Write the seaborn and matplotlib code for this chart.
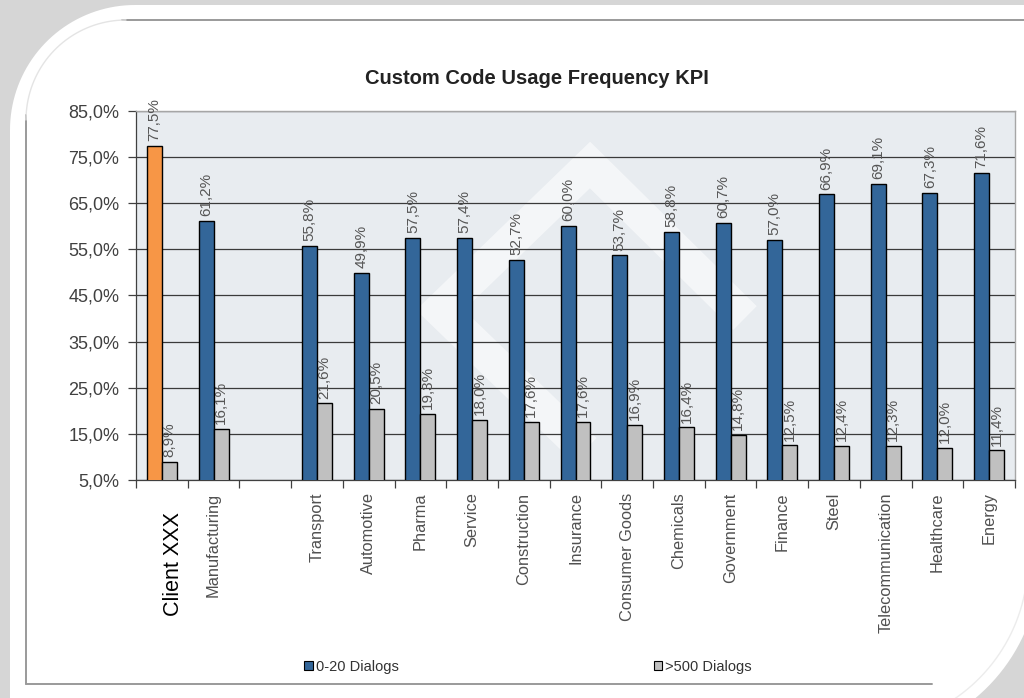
import numpy as np
import pandas as pd
import matplotlib
matplotlib.use("Agg")
import matplotlib.pyplot as plt
import seaborn as sns
from matplotlib.patches import Patch, PathPatch
from matplotlib.path import Path
from matplotlib.lines import Line2D
import matplotlib.transforms as mtransforms

# ---------------- data ----------------
categories = ["Client XXX", "Manufacturing", " ", "Transport", "Automotive", "Pharma",
              "Service", "Construction", "Insurance", "Consumer Goods", "Chemicals",
              "Government", "Finance", "Steel", "Telecommunication", "Healthcare", "Energy"]
data_categories = ["Client XXX", "Manufacturing", "Transport", "Automotive", "Pharma",
                   "Service", "Construction", "Insurance", "Consumer Goods", "Chemicals",
                   "Government", "Finance", "Steel", "Telecommunication", "Healthcare", "Energy"]
low_dialogs = [77.5, 61.2, 55.8, 49.9, 57.5, 57.4, 52.7, 60.0, 53.7, 58.8,
               60.7, 57.0, 66.9, 69.1, 67.3, 71.6]
high_dialogs = [8.9, 16.1, 21.6, 20.5, 19.3, 18.0, 17.6, 17.6, 16.9, 16.4,
                14.8, 12.5, 12.4, 12.3, 12.0, 11.4]
series_names = ["0-20 Dialogs", ">500 Dialogs"]
y_ticks = [5, 15, 25, 35, 45, 55, 65, 75, 85]
title = "Custom Code Usage Frequency KPI"

df = pd.DataFrame({
    "category": data_categories * 2,
    "series": [series_names[0]] * len(data_categories) + [series_names[1]] * len(data_categories),
    "value": low_dialogs + high_dialogs,
})

# ---------------- style ----------------
sns.set_theme(style="white")
plt.rcParams["font.family"] = ["Liberation Sans", "DejaVu Sans"]

BLUE = "#336699"
GRAY = "#C0C0C0"
ORANGE = "#F79646"

W, H = 1024, 698
fig = plt.figure(figsize=(W / 100, H / 100), dpi=100)
fig.patch.set_facecolor("#D6D6D6")
px = fig.dpi_scale_trans  # 1 unit = 1 inch = 100 px


def P(x, y):
    """pixel coords (top-left origin) -> inches (bottom-left origin)"""
    return (x / 100.0, (H - y) / 100.0)


def arc(cx, cy, r, a0, a1, n=40):
    t = np.radians(np.linspace(a0, a1, n))
    return [P(cx + r * np.cos(t_), cy - r * np.sin(t_)) for t_ in t]


# white panel: rounded top-left and bottom-right corners
x0, y0, x1, y1 = 10, 5, 1040, 740
r_tl, r_br = 125, 180
verts = []
verts += arc(x0 + r_tl, y0 + r_tl, r_tl, 180, 90)          # top-left corner
verts += [P(x1, y0)]
verts += [P(x1, y1 - r_br)]
verts += arc(x1 - r_br, y1 - r_br, r_br, 0, -90)           # bottom-right corner
verts += [P(x0, y1)]
verts += [verts[0]]
codes = [Path.MOVETO] + [Path.LINETO] * (len(verts) - 2) + [Path.CLOSEPOLY]
fig.add_artist(PathPatch(Path(verts, codes), transform=px, facecolor="white",
                         edgecolor="none", zorder=0))

# chart border lines (sharp bottom-left, faded top-left / bottom-right)
border = dict(transform=px, color="#9A9A9A", linewidth=1.4, zorder=0.5)
fig.add_artist(Line2D(*zip(P(26, 115), P(26, 684)), **border))
fig.add_artist(Line2D(*zip(P(26, 684), P(932, 684)), **border))
fig.add_artist(Line2D(*zip(P(122, 20), P(W, 20)), **border))
faint_tl = arc(26 + 100, 20 + 100, 100, 180, 90)
fig.add_artist(Line2D(*zip(*faint_tl), transform=px, color="#E4E4E4", linewidth=1.0, zorder=0.5))
faint_br = arc(x1 - r_br, y1 - r_br, r_br - 12, 5, -75)
fig.add_artist(Line2D(*zip(*faint_br), transform=px, color="#ECECEC", linewidth=1.0, zorder=0.5))

# ---------------- axes ----------------
ax = fig.add_axes([136 / W, 1 - 480 / H, (1015 - 136) / W, (480 - 111) / H])
ax.set_facecolor("#E8ECF0")

# faint watermark behind the grid
wm_pts = [P(585, 450), P(440, 310), P(590, 165), P(745, 318)]
wl = Line2D(*zip(*wm_pts), transform=px, color="white", alpha=0.55, linewidth=24,
            solid_joinstyle="miter", solid_capstyle="butt", zorder=0.2)
wl.set_clip_path(ax.patch)
ax.add_artist(wl)

sns.barplot(data=df, x="category", y="value", hue="series", order=categories,
            hue_order=series_names, palette=[BLUE, GRAY], width=0.58,
            edgecolor="black", linewidth=1.0, saturation=1, ax=ax, legend=False,
            zorder=3)

# Client bar highlighted in orange
client_patch = min(ax.containers[0], key=lambda p: p.get_x())
client_patch.set_facecolor(ORANGE)

# value labels
for cont in ax.containers:
    labels = [f"{p.get_height():.1f}%".replace(".", ",") for p in cont]
    ax.bar_label(cont, labels=labels, rotation=90, padding=3.5, fontsize=11,
                 color="#555555", zorder=4)

# y axis
ax.set_ylim(5, 85)
ax.set_yticks(y_ticks)
ax.set_yticklabels([f"{v:.1f}%".replace(".", ",") for v in y_ticks],
                   fontsize=13, color="#404040")
ax.yaxis.grid(True, color="#3A3A3A", linewidth=0.9)
ax.set_axisbelow(True)
ax.tick_params(axis="y", direction="out", length=6, width=0.9, color="#404040", pad=6, left=True)

# x axis: ticks at slot boundaries, labels at centres
n = len(categories)
ax.set_xlim(-0.5, n - 0.5)
ax.set_xticks(np.arange(-0.5, n, 1.0))
ax.set_xticklabels([])
ax.tick_params(axis="x", which="major", direction="out", length=6, width=0.9,
               color="#404040", bottom=True)
ax.set_xticks(np.arange(n), minor=True)
ax.set_xticklabels(categories, minor=True, rotation=90, fontsize=11.8, color="#505050")
ax.tick_params(axis="x", which="minor", length=0, pad=9)
shift = mtransforms.ScaledTranslation(0.12, -0.20, fig.dpi_scale_trans)
for lbl in ax.get_xticklabels(minor=True):
    if lbl.get_text() == "Client XXX":
        lbl.set_fontsize(15.5)
        lbl.set_color("black")
        lbl.set_transform(lbl.get_transform() + shift)

ax.set_xlabel("")
ax.set_ylabel("")

for side in ["left", "bottom"]:
    ax.spines[side].set_color("#404040")
    ax.spines[side].set_linewidth(0.9)
for side in ["top", "right"]:
    ax.spines[side].set_color("#A6A6A6")
    ax.spines[side].set_linewidth(1.0)

fig.text(537 / W, 1 - 78 / H, title, ha="center", va="center",
         fontsize=14.5, fontweight="bold", color="#222222")

handles = [Patch(facecolor=BLUE, edgecolor="black", linewidth=0.8),
           Patch(facecolor=GRAY, edgecolor="black", linewidth=0.8)]
fig.legend(handles, series_names, loc="center", bbox_to_anchor=(528 / W, 1 - 667 / H),
           ncol=2, frameon=False, fontsize=10.5, handlelength=0.6, handleheight=0.6,
           handletextpad=0.2, columnspacing=17.5, labelcolor="#333333")

fig.savefig("out.png", dpi=100, facecolor=fig.get_facecolor())
